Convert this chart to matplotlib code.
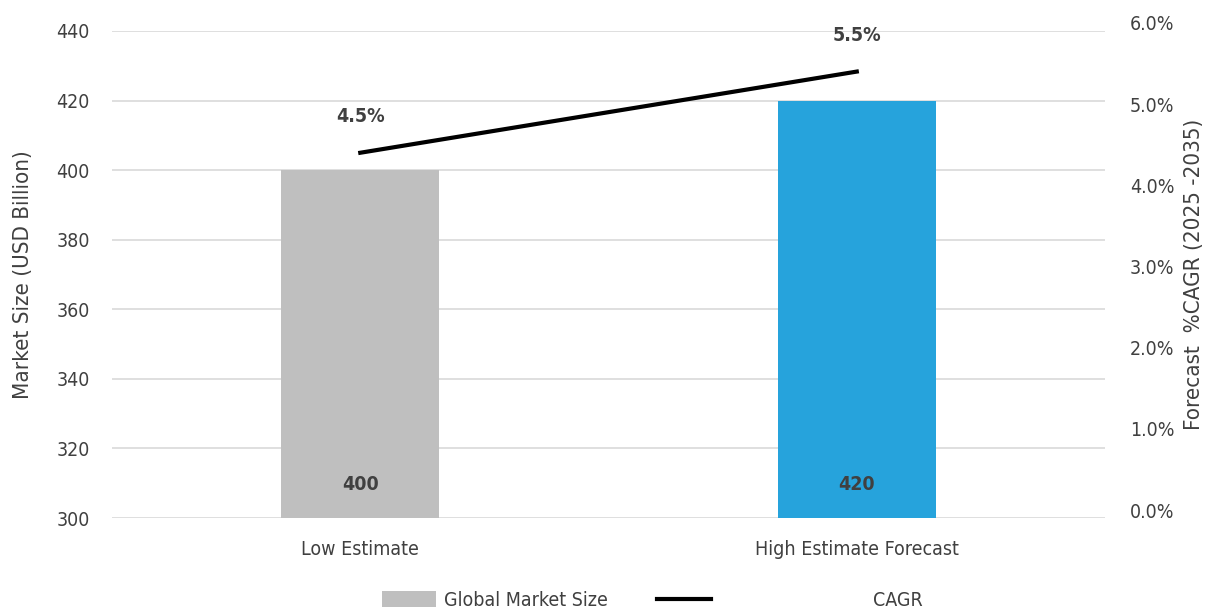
import matplotlib
matplotlib.use("Agg")
import matplotlib.pyplot as plt
from matplotlib.patches import Patch
from matplotlib.lines import Line2D
from matplotlib.ticker import FuncFormatter
import matplotlib.transforms as mtransforms

plt.rcParams['font.family'] = ['DejaVu Sans']
plt.rcParams['font.stretch'] = 'condensed'

categories = ["Low Estimate", "High Estimate Forecast"]
market_size = [400, 420]
cagr = [4.5, 5.5]
bar_colors = ["#bfbfbf", "#26a3dc"]
left_ticks = [300, 320, 340, 360, 380, 400, 420, 440]
right_ticks = [0, 1, 2, 3, 4, 5, 6]

fig = plt.figure(figsize=(12.15, 6.15), dpi=100)
ax = fig.add_axes([0.0922, 0.1577, 0.8173, 0.7919])
ax2 = ax.twinx()

x = list(range(len(categories)))
ax.bar(x, market_size, width=0.318, color=bar_colors, zorder=2)
ax.set_ylim(300, 440)
ax.set_xlim(-0.5, 1.5)
ax.set_yticks(left_ticks)
ax.grid(axis='y', color='#d9d9d9', linewidth=1.2, zorder=0)
ax.set_axisbelow(True)
for s in ax.spines.values():
    s.set_visible(False)
for s in ax2.spines.values():
    s.set_visible(False)
ax.tick_params(axis='both', length=0, labelsize=14, colors='#404040')
ax.tick_params(axis='x', pad=16)
ax.tick_params(axis='y', pad=16)
ax.set_xticks(x)
ax.set_xticklabels(categories, fontsize=14, color='#404040')
ax.set_ylabel("Market Size (USD Billion)", fontsize=16, color='#404040', labelpad=17)

for xi, v in zip(x, market_size):
    ax.text(xi, 307, f"{v}", ha='center', va='bottom', fontsize=14,
            fontweight='bold', color='#404040', zorder=3)

ax2.plot(x, cagr, color='black', linewidth=3, zorder=4)
ax2.set_ylim(0, 6)
ax2.set_yticks(right_ticks)
ax2.yaxis.set_major_formatter(FuncFormatter(lambda v, p: f"{v:.1f}%"))
ax2.tick_params(axis='y', length=0, labelsize=14, colors='#404040', pad=18)
shift = mtransforms.ScaledTranslation(0, 8 / 100, fig.dpi_scale_trans)
for lbl in ax2.get_yticklabels():
    lbl.set_transform(lbl.get_transform() + shift)
ax2.set_ylabel("Forecast  %CAGR (2025 -2035)", fontsize=16, color='#404040', labelpad=7)
for xi, v in zip(x, cagr):
    ax2.text(xi, v + 0.45, f"{v:.1f}%", ha='center', va='center', fontsize=14,
             fontweight='bold', color='#404040')

fig.legend([Patch(facecolor=bar_colors[0], edgecolor='none')],
           ["Global Market Size"], loc='center left',
           bbox_to_anchor=(382 / 1215, 1 - 600 / 615), frameon=False,
           fontsize=14, handlelength=2.8, handleheight=0.9,
           handletextpad=0.4, labelcolor='#404040', borderaxespad=0,
           borderpad=0)
fig.legend([Line2D([0], [0], color='black', linewidth=3)], ["CAGR"],
           loc='center left', bbox_to_anchor=(657 / 1215, 1 - 600 / 615),
           frameon=False, fontsize=14, handlelength=2.8, handletextpad=8.3,
           labelcolor='#404040', borderaxespad=0, borderpad=0)

fig.savefig("out.png", dpi=100)
